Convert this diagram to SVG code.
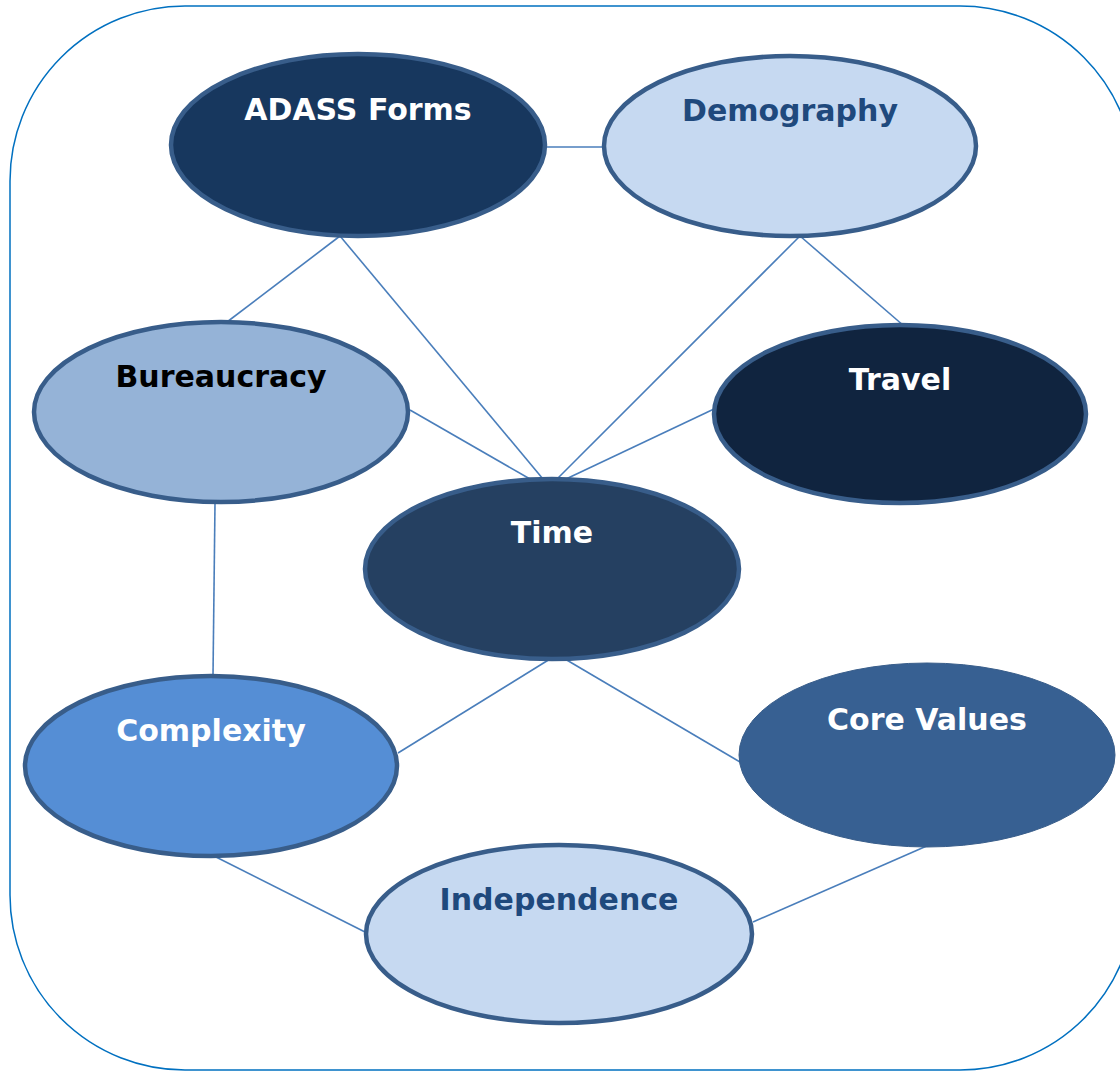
<svg xmlns="http://www.w3.org/2000/svg" width="1120" height="1071" viewBox="0 0 1120 1071">
<style>
.frame{fill:#ffffff;stroke:#0070C0;stroke-width:1.5}
.conn line{stroke:#4A7EBB;stroke-width:1.6}
.node ellipse{stroke:#385D8A;stroke-width:4.5}
.lbl{font-family:"DejaVu Sans",Verdana,sans-serif;font-weight:bold;font-size:30px;text-anchor:middle}
.w{fill:#ffffff}
.b{fill:#1F497D}
.k{fill:#000000}
</style>
<rect class="frame" x="10" y="6" width="1125" height="1064" rx="175" ry="175"/>
<g id="connectors" class="conn">
<line x1="547" y1="147" x2="604" y2="147"/>
<line x1="340" y1="236" x2="227" y2="322"/>
<line x1="340" y1="236" x2="543" y2="479"/>
<line x1="800" y1="236" x2="904" y2="326"/>
<line x1="800" y1="236" x2="557" y2="479"/>
<line x1="410" y1="410" x2="530" y2="479"/>
<line x1="714" y1="409" x2="566" y2="479"/>
<line x1="215" y1="503" x2="213" y2="676"/>
<line x1="550" y1="659" x2="398" y2="753"/>
<line x1="565" y1="659" x2="740" y2="762"/>
<line x1="214" y1="856" x2="365" y2="932"/>
<line x1="929" y1="845" x2="753" y2="922"/>
</g>
<g id="node-adass" class="node">
<ellipse cx="358" cy="145" rx="187" ry="91" fill="#17375E"/>
<text class="lbl w" x="358" y="120">ADASS Forms</text>
</g>
<g id="node-demography" class="node">
<ellipse cx="790" cy="146" rx="186" ry="90" fill="#C6D9F1"/>
<text class="lbl b" x="790" y="121">Demography</text>
</g>
<g id="node-bureaucracy" class="node">
<ellipse cx="221" cy="412" rx="187" ry="90" fill="#95B3D7"/>
<text class="lbl k" x="221" y="387">Bureaucracy</text>
</g>
<g id="node-travel" class="node">
<ellipse cx="900" cy="414" rx="186" ry="89" fill="#10243F"/>
<text class="lbl w" x="900" y="390">Travel</text>
</g>
<g id="node-time" class="node">
<ellipse cx="552" cy="569" rx="187" ry="90" fill="#254061"/>
<text class="lbl w" x="552" y="543">Time</text>
</g>
<g id="node-complexity" class="node">
<ellipse cx="211" cy="766" rx="186" ry="90" fill="#558ED5"/>
<text class="lbl w" x="211" y="741">Complexity</text>
</g>
<g id="node-corevalues" class="node">
<ellipse cx="927" cy="755" rx="188" ry="92" fill="#376092" stroke="#376092" style="stroke-width:1"/>
<text class="lbl w" x="927" y="730">Core Values</text>
</g>
<g id="node-independence" class="node">
<ellipse cx="559" cy="934" rx="193" ry="89" fill="#C6D9F1"/>
<text class="lbl b" x="559" y="910">Independence</text>
</g>
</svg>
